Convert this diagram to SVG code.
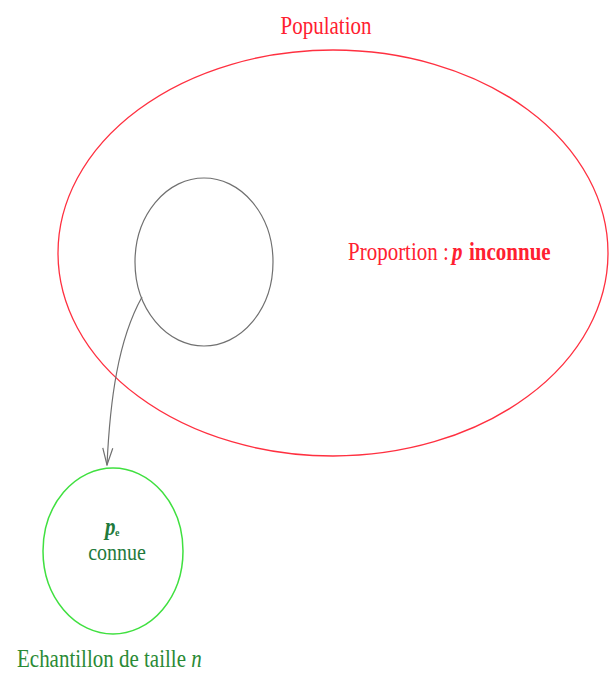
<svg xmlns="http://www.w3.org/2000/svg" width="611" height="675" viewBox="0 0 611 675">
<style>
.t{font-family:"Liberation Serif","Times New Roman",serif;font-size:21px}
.red{fill:#ff2030}
.grn{fill:#1f7a3c}
</style>
<defs>
<marker id="arr" markerWidth="20" markerHeight="12" refX="19" refY="6" orient="auto" markerUnits="userSpaceOnUse" viewBox="0 0 20 12">
<path d="M2,1 L19,6 L2,11" fill="none" stroke="#707070" stroke-width="1.2"/>
</marker>
</defs>
<rect width="611" height="675" fill="#fff"/>
<g id="population">
<ellipse cx="333" cy="253" rx="275" ry="203" fill="none" stroke="#ff3040" stroke-width="1.3"/>
<text class="t red" text-anchor="middle" transform="translate(326,34) scale(1,1.15)">Population</text>
<text class="t red" transform="translate(348,260) scale(1,1.15)">Proportion :</text>
<text class="t red" font-style="italic" font-weight="bold" transform="translate(452,260) scale(1,1.15)">p</text>
<text class="t red" font-weight="bold" transform="translate(469,260) scale(1,1.15)">inconnue</text>
</g>
<g id="subset">
<ellipse cx="204" cy="262" rx="69" ry="84" fill="none" stroke="#707070" stroke-width="1.2"/>
</g>
<g id="echantillon">
<ellipse cx="113" cy="551" rx="70" ry="83" fill="none" stroke="#40e040" stroke-width="1.5"/>
<text class="t grn" font-style="italic" font-weight="bold" transform="translate(105,535) scale(1,1.15)">p</text>
<text class="t grn" font-weight="bold" style="font-size:10px" x="115" y="536">e</text>
<text class="t grn" style="font-size:20px" text-anchor="middle" transform="translate(117,560) scale(1,1.15)">connue</text>
<text class="t" fill="#2a8a35" transform="translate(17,667) scale(1,1.15)">Echantillon de taille <tspan font-style="italic">n</tspan></text>
</g>
<g id="connectors">
<path d="M142,297 C118,340 110,400 107,465" fill="none" stroke="#707070" stroke-width="1.2" marker-end="url(#arr)"/>
</g>
</svg>
